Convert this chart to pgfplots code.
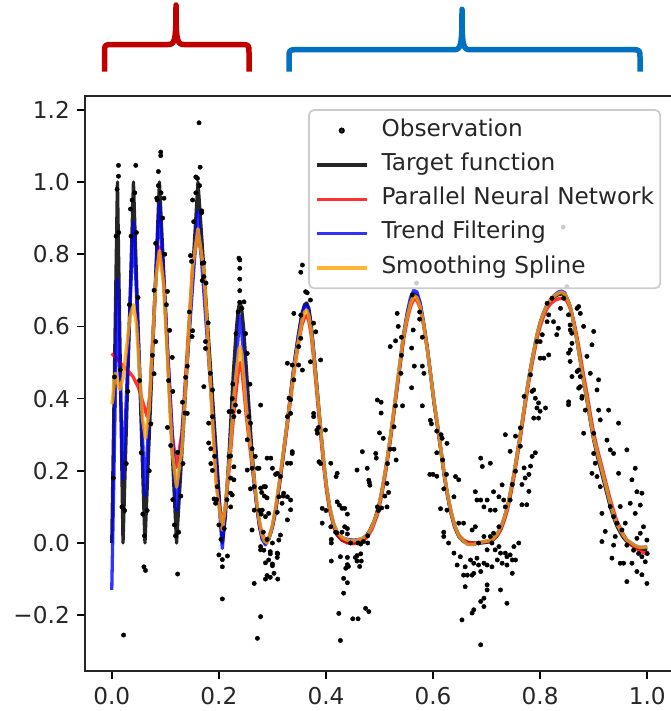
\documentclass[border=0pt]{standalone}
\usepackage{fontspec}
\setmainfont{DejaVu Sans}
\usepackage{pgfplots}
\usepackage{pgfplotstable}
\pgfplotsset{compat=1.18}

\definecolor{pnn}{RGB}{255,0,0}
\definecolor{tfc}{RGB}{0,0,255}
\definecolor{ssc}{RGB}{255,165,0}
\definecolor{braceRed}{RGB}{192,0,0}
\definecolor{braceBlue}{RGB}{0,112,192}

% noisy observations
\pgfplotstableread{
x y
0.003 0.18
0.005 0.46
0.008 0.85
0.010 0.98
0.0125 1.046
0.0125 1.016
0.013 0.86
0.016 0.48
0.019 0.10
0.020 0.10
0.022 -0.255
0.024 0.09
0.027 0.22
0.030 0.42
0.033 0.66
0.035 0.925
0.036 0.85
0.038 0.95
0.043 0.97
0.0448 1.046
0.046 0.86
0.049 0.68
0.052 0.45
0.055 0.25
0.058 0.08
0.060 -0.066
0.061 0.02
0.063 -0.076
0.066 0.09
0.070 0.20
0.073 0.33
0.076 0.52
0.079 0.469
0.079 0.70
0.082 0.558
0.082 0.83
0.084 0.955
0.085 0.95
0.087 1.029
0.087 0.99
0.0914 1.083
0.0914 1.073
0.092 0.97
0.095 0.90
0.0976 0.955
0.099 0.80
0.102 0.66
0.104 0.697
0.104 0.32
0.106 0.45
0.108 0.589
0.110 0.27
0.113 0.514
0.114 0.42
0.114 0.12
0.117 0.05
0.119 0.02
0.123 -0.086
0.123 0.251
0.125 0.03
0.129 0.13
0.132 0.39
0.133 0.22
0.137 0.36
0.138 0.459
0.141 0.359
0.141 0.49
0.145 0.64
0.147 0.796
0.149 0.78
0.150 0.572
0.151 0.588
0.151 0.95
0.153 0.89
0.157 1.014
0.157 0.97
0.160 1.01
0.163 1.164
0.164 0.99
0.165 1.041
0.168 0.915
0.168 0.92
0.169 0.775
0.169 0.727
0.172 0.776
0.172 0.738
0.172 0.433
0.175 0.558
0.175 0.539
0.176 0.72
0.180 0.61
0.181 0.332
0.181 0.277
0.184 0.47
0.185 0.261
0.185 0.22
0.188 0.424
0.188 0.35
0.188 0.201
0.191 0.122
0.192 0.24
0.194 0.11
0.196 0.12
0.197 0.156
0.200 0.05
0.200 -0.033
0.204 0.01
0.2065 -0.046
0.2065 -0.155
0.2065 -0.066
0.210 0.04
0.215 0.12
0.216 -0.036
0.219 0.24
0.219 0.364
0.222 0.241
0.222 0.138
0.222 0.18
0.222 0.10
0.225 0.40
0.225 0.364
0.225 0.133
0.226 0.44
0.228 0.211
0.228 0.35
0.228 0.175
0.231 0.382
0.232 0.58
0.236 0.64
0.2375 0.789
0.2375 0.364
0.239 0.784
0.239 0.761
0.239 0.731
0.239 0.699
0.239 0.667
0.243 0.65
0.247 0.668
0.250 0.58
0.253 0.525
0.253 0.286
0.253 0.202
0.256 0.35
0.258 0.44
0.259 0.332
0.259 0.15
0.262 0.261
0.262 0.207
0.262 0.036
0.266 -0.112
0.266 0.091
0.266 0.156
0.268 0.24
0.272 -0.264
0.272 0.207
0.275 0.207
0.276 0.09
0.278 -0.204
0.278 -0.01
0.278 -0.019
0.278 0.152
0.278 0.382
0.279 0.08
0.280 0.14
0.281 0.091
0.283 0.03
0.284 -0.02
0.284 0.156
0.285 0.13
0.287 0.073
0.287 -0.055
0.287 -0.1
0.287 0.156
0.290 0.235
0.290 0.01
0.290 0.125
0.290 -0.09
0.293 0.082
0.293 -0.047
0.296 -0.024
0.296 -0.095
0.296 -0.03
0.297 0.235
0.300 0.0
0.300 0.207
0.300 -0.058
0.300 -0.063
0.303 -0.084
0.306 0.19
0.309 -0.028
0.309 -0.04
0.309 0.193
0.309 0.085
0.310 -0.1
0.310 -0.03
0.312 0.008
0.312 0.128
0.315 0.184
0.315 0.022
0.318 0.11
0.320 0.13
0.321 0.138
0.328 0.064
0.328 0.128
0.328 0.221
0.328 0.35
0.328 0.498
0.331 0.401
0.334 0.092
0.334 0.221
0.334 0.359
0.334 0.397
0.334 0.119
0.337 0.248
0.337 0.253
0.337 0.493
0.340 0.452
0.340 0.636
0.349 0.544
0.349 0.493
0.353 0.567
0.353 0.631
0.353 0.75
0.356 0.479
0.356 0.77
0.362 0.696
0.365 0.693
0.371 0.673
0.371 0.502
0.377 0.609
0.377 0.359
0.377 0.35
0.381 0.585
0.383 0.313
0.384 0.304
0.386 0.32
0.387 0.225
0.390 0.507
0.390 0.22
0.393 0.096
0.393 0.055
0.399 0.313
0.400 0.09
0.409 0.221
0.409 0.045
0.410 0.0
0.410 0.01
0.410 -0.05
0.418 0.03
0.419 0.184
0.420 0.028
0.421 0.193
0.421 0.114
0.424 -0.195
0.425 0.105
0.427 -0.038
0.427 -0.27
0.430 0.096
0.430 0.03
0.433 -0.098
0.433 -0.139
0.435 0.096
0.435 0.045
0.437 -0.07
0.440 0.08
0.440 0.04
0.440 0.025
0.440 -0.04
0.440 -0.06
0.442 -0.065
0.440 -0.11
0.446 0.0
0.450 -0.21
0.455 -0.04
0.458 0.202
0.458 -0.035
0.458 -0.05
0.460 0.0
0.460 -0.21
0.463 -0.065
0.465 -0.003
0.465 -0.03
0.466 -0.05
0.468 0.253
0.470 0.004
0.474 -0.181
0.477 0.207
0.478 0.0
0.478 0.02
0.480 0.174
0.480 -0.19
0.481 0.168
0.482 0.16
0.493 0.248
0.494 0.235
0.496 0.10
0.496 0.396
0.498 0.09
0.500 0.305
0.503 0.39
0.503 0.36
0.504 0.097
0.507 0.29
0.510 0.13
0.514 0.10
0.514 0.165
0.515 0.22
0.517 0.14
0.520 0.26
0.520 0.544
0.527 0.322
0.527 0.26
0.530 0.56
0.530 0.38
0.531 0.23
0.533 0.636
0.535 0.60
0.541 0.57
0.541 0.52
0.540 0.47
0.543 0.38
0.560 0.54
0.561 0.687
0.563 0.59
0.560 0.43
0.565 0.49
0.569 0.72
0.575 0.64
0.575 0.62
0.580 0.57
0.580 0.49
0.583 0.47
0.580 0.38
0.595 0.34
0.597 0.33
0.607 0.31
0.607 0.25
0.615 0.30
0.617 0.29
0.618 0.23
0.600 0.19
0.594 0.19
0.607 0.185
0.625 0.19
0.620 0.15
0.614 0.095
0.620 0.03
0.626 0.276
0.642 0.184
0.648 0.175
0.639 0.128
0.626 0.091
0.620 0.018
0.629 0.0
0.648 0.055
0.657 0.055
0.639 -0.028
0.651 -0.038
0.645 -0.061
0.660 -0.066
0.657 -0.089
0.664 -0.089
0.676 -0.084
0.660 -0.121
0.670 -0.047
0.682 -0.042
0.673 0.036
0.679 0.045
0.682 0.119
0.689 0.119
0.695 0.10
0.679 0.142
0.689 0.235
0.692 0.212
0.707 0.221
0.701 0.119
0.713 0.142
0.723 0.128
0.707 0.091
0.716 0.091
0.729 0.161
0.732 0.119
0.735 0.10
0.744 0.119
0.685 0.0
0.695 0.018
0.707 0.018
0.713 0.027
0.723 0.045
0.710 0.0
0.701 -0.019
0.716 -0.019
0.723 -0.01
0.726 -0.028
0.735 -0.028
0.738 -0.038
0.744 -0.033
0.720 -0.047
0.729 -0.056
0.738 -0.061
0.748 -0.047
0.754 -0.047
0.748 -0.084
0.695 -0.056
0.701 -0.061
0.685 -0.061
0.676 -0.056
0.710 -0.066
0.673 -0.089
0.689 -0.079
0.701 -0.116
0.701 -0.13
0.695 -0.153
0.689 -0.162
0.695 -0.176
0.676 -0.185
0.673 -0.194
0.654 -0.213
0.726 -0.13
0.738 -0.167
0.689 -0.282
0.760 0.0
0.751 -0.01
0.735 0.30
0.754 0.296
0.744 0.254
0.763 0.268
0.770 0.208
0.772 0.18
0.766 0.162
0.779 0.19
0.782 0.213
0.785 0.24
0.779 0.143
0.766 0.106
0.775 0.106
0.754 0.199
0.748 0.162
0.763 0.319
0.791 0.25
0.788 0.346
0.797 0.346
0.770 0.406
0.782 0.466
0.785 0.42
0.791 0.401
0.788 0.424
0.797 0.388
0.794 0.374
0.800 0.365
0.810 0.374
0.800 0.512
0.807 0.512
0.816 0.521
0.800 0.558
0.794 0.558
0.804 0.577
0.813 0.613
0.816 0.632
0.813 0.664
0.822 0.678
0.825 0.613
0.831 0.577
0.834 0.595
0.838 0.65
0.844 0.678
0.843 0.875
0.850 0.71
0.853 0.632
0.856 0.604
0.853 0.526
0.856 0.503
0.853 0.383
0.859 0.581
0.869 0.65
0.869 0.475
0.875 0.461
0.872 0.429
0.878 0.401
0.8719 0.655
0.875 0.636
0.8812 0.60
0.900 0.586
0.8968 0.549
0.8594 0.553
0.8563 0.59
0.8563 0.535
0.8874 0.517
0.8594 0.461
0.8719 0.479
0.875 0.433
0.8781 0.406
0.8532 0.391
0.8937 0.47
0.9092 0.452
0.9062 0.424
0.8843 0.368
0.9092 0.368
0.9279 0.368
0.9123 0.341
0.9465 0.332
0.8812 0.304
0.900 0.304
0.9248 0.285
0.931 0.258
0.9372 0.248
0.962 0.258
0.900 0.248
0.903 0.221
0.8968 0.193
0.9062 0.184
0.9123 0.156
0.9465 0.193
0.9714 0.175
0.9776 0.207
0.9807 0.142
0.990 0.138
0.9683 0.11
0.9496 0.101
0.987 0.105
0.9776 0.082
0.931 0.101
0.9154 0.082
0.9372 0.073
0.9434 0.055
0.959 0.055
0.9216 0.032
0.9403 0.018
0.9527 0.036
0.987 0.027
0.993 0.045
0.9807 0.013
0.9994 0.008
0.9154 0.004
0.9372 -0.006
0.962 -0.006
0.9745 -0.02
0.9838 -0.029
0.990 -0.038
0.9341 -0.042
0.9496 -0.056
0.9558 -0.056
0.9714 -0.056
0.9963 -0.052
0.9807 -0.079
0.990 -0.088
0.962 -0.107
0.9994 -0.112
1.000 -0.029
}\obsdata

% target function
\pgfplotstableread{
x y
0.0 0.0
0.0106 1.0
0.021 0.0
0.0405 1.0
0.062 0.0
0.089 1.0
0.121 0.0
0.161 1.0
0.2065 0.0
0.212 0.07
0.217 0.19
0.222 0.33
0.227 0.47
0.232 0.58
0.236 0.645
0.239 0.668
0.242 0.655
0.246 0.60
0.251 0.49
0.256 0.38
0.261 0.27
0.266 0.18
0.271 0.10
0.276 0.045
0.281 0.012
0.287 0.0
0.293 0.01
0.300 0.045
0.306 0.09
0.312 0.15
0.318 0.22
0.324 0.29
0.330 0.36
0.336 0.44
0.342 0.51
0.349 0.58
0.355 0.635
0.360 0.66
0.364 0.665
0.368 0.65
0.372 0.61
0.376 0.55
0.381 0.47
0.386 0.385
0.391 0.30
0.396 0.22
0.401 0.155
0.407 0.095
0.414 0.05
0.421 0.022
0.430 0.008
0.440 0.002
0.450 0.0
0.460 0.003
0.470 0.01
0.480 0.03
0.490 0.06
0.500 0.11
0.508 0.17
0.516 0.245
0.524 0.33
0.531 0.41
0.538 0.49
0.545 0.57
0.552 0.635
0.558 0.67
0.564 0.69
0.570 0.685
0.576 0.66
0.582 0.61
0.589 0.54
0.596 0.46
0.602 0.385
0.609 0.315
0.615 0.25
0.621 0.185
0.627 0.13
0.633 0.085
0.640 0.045
0.648 0.018
0.657 0.004
0.670 0.0
0.690 0.0
0.705 0.003
0.713 0.01
0.720 0.022
0.727 0.042
0.733 0.068
0.739 0.10
0.745 0.14
0.751 0.19
0.757 0.245
0.763 0.30
0.769 0.36
0.775 0.42
0.781 0.475
0.788 0.53
0.794 0.575
0.800 0.61
0.807 0.64
0.813 0.66
0.820 0.673
0.827 0.682
0.834 0.688
0.840 0.69
0.846 0.687
0.851 0.675
0.856 0.655
0.862 0.615
0.869 0.56
0.875 0.505
0.881 0.45
0.888 0.39
0.894 0.335
0.900 0.285
0.906 0.245
0.913 0.205
0.919 0.17
0.925 0.135
0.931 0.10
0.937 0.072
0.943 0.048
0.950 0.028
0.956 0.014
0.962 0.004
0.970 -0.005
0.978 -0.012
0.986 -0.016
0.993 -0.018
1.000 -0.02
}\targetdata

% parallel neural network fit
\pgfplotstableread{
x y
0.0 0.525
0.01 0.51
0.02 0.492
0.03 0.478
0.04 0.46
0.05 0.43
0.058 0.39
0.066 0.35
0.0718 0.419
0.0775 0.585
0.0833 0.751
0.089 0.82
0.097 0.731
0.105 0.515
0.113 0.299
0.121 0.21
0.131 0.305
0.141 0.535
0.151 0.765
0.161 0.86
0.1724 0.741
0.1838 0.455
0.1951 0.169
0.2065 0.05
0.212 0.10
0.219 0.20
0.224 0.29
0.228 0.36
0.233 0.43
0.2375 0.49
0.240 0.50
0.243 0.48
0.247 0.42
0.251 0.355
0.256 0.29
0.261 0.225
0.266 0.165
0.271 0.105
0.275 0.065
0.280 0.03
0.285 0.012
0.290 0.008
0.295 0.02
0.300 0.045
0.306 0.09
0.312 0.15
0.318 0.215
0.324 0.28
0.330 0.35
0.336 0.42
0.342 0.49
0.349 0.555
0.355 0.603
0.360 0.625
0.364 0.63
0.368 0.615
0.372 0.58
0.376 0.525
0.381 0.445
0.386 0.365
0.391 0.285
0.396 0.21
0.401 0.145
0.407 0.09
0.414 0.048
0.421 0.022
0.430 0.008
0.440 0.0
0.450 -0.002
0.458 0.0
0.467 0.006
0.477 0.016
0.486 0.038
0.496 0.078
0.504 0.13
0.512 0.20
0.520 0.28
0.527 0.36
0.533 0.43
0.539 0.50
0.545 0.565
0.552 0.62
0.558 0.655
0.564 0.675
0.570 0.672
0.576 0.65
0.582 0.607
0.589 0.54
0.596 0.46
0.602 0.39
0.609 0.32
0.615 0.255
0.621 0.19
0.627 0.135
0.633 0.09
0.640 0.05
0.648 0.022
0.657 0.008
0.665 0.002
0.675 0.0
0.685 0.0
0.695 0.002
0.705 0.005
0.713 0.01
0.720 0.02
0.727 0.038
0.733 0.062
0.739 0.092
0.745 0.135
0.751 0.18
0.757 0.235
0.763 0.29
0.769 0.35
0.775 0.41
0.781 0.465
0.788 0.52
0.794 0.565
0.800 0.60
0.807 0.63
0.813 0.65
0.820 0.663
0.827 0.672
0.834 0.676
0.840 0.678
0.846 0.676
0.851 0.667
0.856 0.65
0.862 0.62
0.869 0.57
0.875 0.52
0.881 0.465
0.888 0.41
0.894 0.355
0.900 0.305
0.906 0.265
0.913 0.225
0.919 0.19
0.925 0.155
0.931 0.12
0.937 0.09
0.943 0.062
0.950 0.04
0.956 0.022
0.962 0.008
0.970 -0.004
0.978 -0.014
0.986 -0.022
0.993 -0.027
1.000 -0.03
}\nndata

% trend filtering fit
\pgfplotstableread{
x y
0.0 -0.13
0.0106 0.73
0.021 0.175
0.0405 0.89
0.062 0.13
0.089 0.94
0.121 0.09
0.161 0.92
0.2065 -0.015
0.239 0.63
0.243 0.58
0.247 0.50
0.251 0.42
0.256 0.33
0.261 0.24
0.266 0.165
0.271 0.10
0.276 0.045
0.281 0.01
0.287 -0.005
0.293 0.01
0.300 0.045
0.306 0.095
0.312 0.155
0.318 0.22
0.324 0.29
0.330 0.36
0.336 0.435
0.342 0.51
0.349 0.58
0.355 0.63
0.360 0.655
0.364 0.66
0.368 0.645
0.372 0.605
0.376 0.545
0.381 0.465
0.386 0.38
0.391 0.30
0.396 0.22
0.401 0.155
0.407 0.10
0.414 0.055
0.421 0.03
0.430 0.015
0.440 0.01
0.450 0.008
0.458 0.009
0.467 0.012
0.477 0.022
0.486 0.045
0.496 0.085
0.504 0.14
0.512 0.21
0.520 0.29
0.527 0.37
0.533 0.44
0.539 0.51
0.545 0.58
0.552 0.64
0.558 0.68
0.564 0.70
0.570 0.695
0.576 0.665
0.582 0.615
0.589 0.545
0.596 0.46
0.602 0.39
0.609 0.32
0.615 0.255
0.621 0.19
0.627 0.135
0.633 0.09
0.640 0.05
0.648 0.02
0.657 0.005
0.665 -0.004
0.675 -0.004
0.685 0.0
0.695 0.004
0.705 0.006
0.713 0.012
0.720 0.025
0.727 0.045
0.733 0.07
0.739 0.10
0.745 0.145
0.751 0.19
0.757 0.245
0.763 0.30
0.769 0.36
0.775 0.42
0.781 0.475
0.788 0.53
0.794 0.575
0.800 0.61
0.807 0.64
0.813 0.66
0.820 0.675
0.827 0.687
0.834 0.695
0.840 0.698
0.846 0.693
0.851 0.675
0.856 0.655
0.862 0.615
0.869 0.56
0.875 0.505
0.881 0.45
0.888 0.395
0.894 0.34
0.900 0.29
0.906 0.255
0.913 0.215
0.919 0.18
0.925 0.145
0.931 0.11
0.937 0.08
0.943 0.055
0.950 0.035
0.956 0.02
0.962 0.008
0.970 0.0
0.978 -0.008
0.986 -0.012
0.993 -0.012
1.000 -0.01
}\tfdata

% smoothing spline fit
\pgfplotstableread{
x y
0.0 0.385
0.00175 0.397
0.0035 0.4275
0.00525 0.458
0.007 0.47
0.009 0.463
0.011 0.4475
0.013 0.432
0.015 0.425
0.0214 0.459
0.0278 0.5425
0.0341 0.626
0.0405 0.66
0.0461 0.606
0.0518 0.475
0.0574 0.344
0.063 0.29
0.0695 0.366
0.076 0.55
0.0825 0.734
0.089 0.81
0.097 0.714
0.105 0.4825
0.113 0.251
0.121 0.155
0.131 0.2597
0.141 0.5125
0.151 0.765
0.161 0.87
0.1724 0.748
0.1838 0.4525
0.1951 0.157
0.2065 0.036
0.212 0.10
0.219 0.221
0.224 0.32
0.228 0.405
0.233 0.48
0.2375 0.535
0.240 0.545
0.243 0.52
0.247 0.455
0.251 0.38
0.256 0.31
0.261 0.24
0.266 0.175
0.271 0.11
0.275 0.064
0.280 0.025
0.285 0.005
0.290 0.0
0.295 0.02
0.300 0.05
0.306 0.10
0.312 0.16
0.318 0.225
0.324 0.29
0.330 0.36
0.336 0.43
0.342 0.50
0.349 0.565
0.355 0.615
0.360 0.64
0.364 0.645
0.368 0.63
0.372 0.595
0.376 0.54
0.381 0.46
0.386 0.38
0.391 0.30
0.396 0.22
0.401 0.155
0.407 0.10
0.414 0.055
0.421 0.03
0.430 0.015
0.440 0.008
0.450 0.006
0.458 0.008
0.467 0.012
0.477 0.022
0.486 0.045
0.496 0.085
0.504 0.14
0.512 0.21
0.520 0.29
0.527 0.37
0.533 0.44
0.539 0.51
0.545 0.575
0.552 0.63
0.558 0.665
0.564 0.685
0.570 0.68
0.576 0.655
0.582 0.61
0.589 0.54
0.596 0.46
0.602 0.39
0.609 0.32
0.615 0.255
0.621 0.19
0.627 0.135
0.633 0.09
0.640 0.05
0.648 0.02
0.657 0.005
0.665 -0.004
0.675 -0.004
0.685 0.0
0.695 0.004
0.705 0.006
0.713 0.012
0.720 0.025
0.727 0.045
0.733 0.07
0.739 0.10
0.745 0.145
0.751 0.19
0.757 0.245
0.763 0.30
0.769 0.36
0.775 0.42
0.781 0.475
0.788 0.53
0.794 0.575
0.800 0.61
0.807 0.64
0.813 0.66
0.820 0.675
0.827 0.685
0.834 0.692
0.840 0.695
0.846 0.69
0.851 0.675
0.856 0.655
0.862 0.615
0.869 0.56
0.875 0.505
0.881 0.45
0.888 0.395
0.894 0.34
0.900 0.29
0.906 0.255
0.913 0.215
0.919 0.18
0.925 0.145
0.931 0.11
0.937 0.08
0.943 0.055
0.950 0.035
0.956 0.02
0.962 0.008
0.970 0.0
0.978 -0.008
0.986 -0.012
0.993 -0.012
1.000 -0.01
}\ssdata

\newcommand{\chartfont}{\fontsize{23.2bp}{28bp}\selectfont}

\begin{document}
\begin{tikzpicture}
\begin{axis}[
  at={(85bp,-671bp)}, anchor=south west,
  scale only axis, width=589bp, height=575bp,
  xmin=-0.05, xmax=1.05, ymin=-0.3546, ymax=1.2382,
  xtick={0,0.2,0.4,0.6,0.8,1.0},
  xticklabels={0.0,0.2,0.4,0.6,0.8,1.0},
  ytick={-0.2,0,0.2,0.4,0.6,0.8,1.0,1.2},
  yticklabels={−0.2,0.0,0.2,0.4,0.6,0.8,1.0,1.2},
  tick pos=left, tick align=outside,
  major tick length=7.7bp,
  every tick/.style={black, line width=1.7bp},
  axis line style={line width=1.7bp, black!85},
  tick label style={font=\chartfont, text=black!85},
  xticklabel style={yshift=-5bp},
  yticklabel style={xshift=-4bp},
  legend cell align=left,
  legend image code/.code={\draw[#1] (0bp,0bp) -- (50bp,0bp);},
  legend style={at={(0.978,0.977)}, anchor=north east,
    draw=black!20, line width=1.7bp, fill=white, fill opacity=0.8, text opacity=1,
    rounded corners=5bp, inner xsep=6bp, inner ysep=10bp,
    row sep=13.3bp, column sep=13bp, font=\chartfont, text=black!85,
    nodes={inner sep=0pt, text height=16bp, text depth=5bp}},
]
\addplot[only marks, mark=*, mark size=2.2bp, black, mark options={draw=none},
  legend image code/.code={\fill[black] (25bp,0bp) circle (2.2bp);}]
  table {\obsdata};
\addplot[black, line width=3.3bp, opacity=0.85, line join=round] table {\targetdata};
\addplot[pnn, line width=3.3bp, opacity=0.8, line join=round] table {\nndata};
\addplot[tfc, line width=3.3bp, opacity=0.8, line join=round] table {\tfdata};
\addplot[ssc, line width=3.5bp, opacity=0.8, line join=round] table {\ssdata};
\legend{Observation, Target function, Parallel Neural Network, Trend Filtering, Smoothing Spline}
\end{axis}

% braces marking the two regimes
\draw[braceRed, line width=5.5bp, line join=round]
  (104.5bp,-71.7bp) -- (104.5bp,-53bp) .. controls (104.5bp,-44.5bp) .. (113bp,-44.5bp)
  -- (168bp,-44.5bp) .. controls (175bp,-44.5bp) and (176bp,-41bp) .. (176bp,-5bp)
  .. controls (176bp,-41bp) and (177bp,-44.5bp) .. (184bp,-44.5bp)
  -- (240.5bp,-44.5bp) .. controls (249bp,-44.5bp) .. (249bp,-53bp) -- (249bp,-71.7bp);
\draw[braceBlue, line width=5.5bp, line join=round]
  (289bp,-71.7bp) -- (289bp,-58bp) .. controls (289bp,-49.7bp) .. (297.5bp,-49.7bp)
  -- (454bp,-49.7bp) .. controls (461bp,-49.7bp) and (462bp,-46bp) .. (462bp,-9.3bp)
  .. controls (462bp,-46bp) and (463bp,-49.7bp) .. (470bp,-49.7bp)
  -- (631.5bp,-49.7bp) .. controls (640bp,-49.7bp) .. (640bp,-58bp) -- (640bp,-71.7bp);

\pgfresetboundingbox
\useasboundingbox (0bp,0bp) rectangle (671bp,-711bp);
\end{tikzpicture}
\end{document}
